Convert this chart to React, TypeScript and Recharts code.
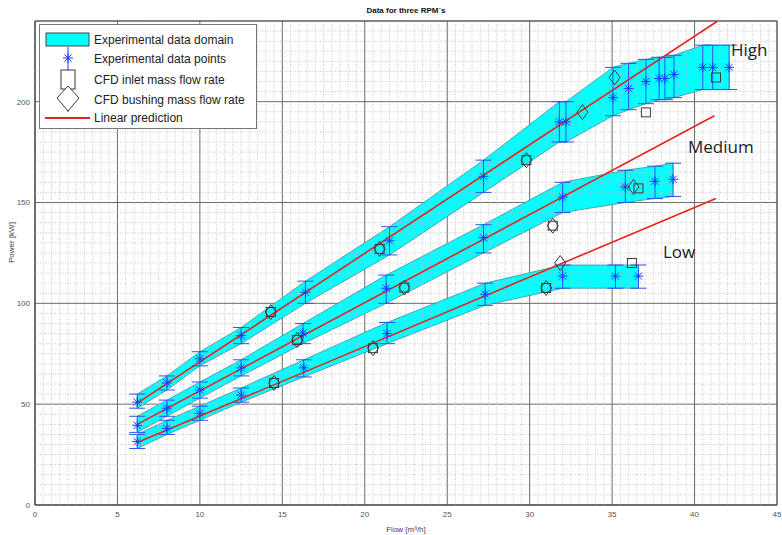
import {
  Area,
  CartesianGrid,
  ComposedChart,
  ErrorBar,
  Line,
  ReferenceArea,
  ReferenceLine,
  Scatter,
  XAxis,
  YAxis,
} from 'recharts';

// High RPM: experimental points and measured spread
const highFlow = [6.2, 8, 10, 12.5, 16.4, 21.5, 27.2, 31.8, 32.2, 35.05, 36.0, 37.05, 37.85, 38.2, 38.75, 40.5, 41.1, 42.1];
const highPower = [51, 60.5, 72.5, 84, 105.5, 131, 163, 190, 190, 202, 206.5, 210, 211.5, 211.5, 213.5, 217, 217, 217];
const highMin = [48, 57, 69, 80, 100, 124, 155, 180, 180, 193, 196, 199, 201, 201, 202, 206, 206, 206];
const highMax = [55, 64, 76, 88, 111, 138, 171, 200, 200, 217, 219, 221, 222, 222, 223, 228, 228, 228];

// Medium RPM
const medFlow = [6.2, 8, 10, 12.5, 16.25, 21.3, 27.2, 32.0, 35.8, 37.6, 38.7];
const medPower = [39.5, 48, 57, 68, 85.3, 107.5, 132.5, 152.7, 157.7, 160.5, 161.5];
const medMin = [36, 44, 53, 64, 80, 100, 125, 145, 150, 152, 153];
const medMax = [44, 52, 61, 72, 90, 114, 139, 160, 166, 168, 169.5];

// Low RPM
const lowFlow = [6.2, 8, 10, 12.5, 16.3, 21.35, 27.3, 32.0, 35.2, 36.6];
const lowPower = [31.5, 38, 45.5, 54.5, 68, 85, 104.5, 113.5, 113.5, 113.5];
const lowMin = [28, 35, 42, 51, 63.5, 80, 99, 107.5, 107.5, 107.5];
const lowMax = [35, 42, 49, 58, 72, 90.5, 110, 119, 119, 119];

// CFD results
const cfdInletFlow = [14.3, 20.9, 29.8, 37.05, 41.3, 15.9, 22.4, 31.4, 36.6, 14.5, 20.5, 31.0, 36.2];
const cfdInletPower = [95.7, 127, 171, 194.7, 212, 81.8, 107.8, 138.5, 157, 60.5, 77.8, 107.6, 120];
const cfdBushFlow = [14.3, 20.9, 29.8, 33.2, 35.15, 15.9, 22.4, 31.4, 36.3, 14.5, 20.5, 31.0, 31.85];
const cfdBushPower = [95.7, 127, 171, 194.8, 212, 81.8, 107.8, 138.5, 157.7, 60.5, 77.8, 107.6, 120];

// Linear prediction end points
const highLineFlow = [6.2, 41.4];
const highLinePower = [50.5, 240];
const medLineFlow = [6.2, 41.2];
const medLinePower = [40, 193];
const lowLineFlow = [6.2, 41.3];
const lowLinePower = [31, 152];

const xTicks = [0, 5, 10, 15, 20, 25, 30, 35, 40, 45];
const yTicks = [0, 50, 100, 150, 200];

const minorX: number[] = [];
for (let i = 1; i < 90; i++) if (i % 10 !== 0) minorX.push(i * 0.5);
const minorY: number[] = [];
for (let i = 1; i < 48; i++) if (i % 10 !== 0) minorY.push(i * 5);

const pts = (xs: number[], ys: number[], lo?: number[], hi?: number[]) =>
  xs.map((x, i) => ({
    x,
    y: ys[i],
    err: lo && hi ? [ys[i] - lo[i], hi[i] - ys[i]] : undefined,
  }));
const band = (xs: number[], lo: number[], hi: number[]) => xs.map((x, i) => ({ x, range: [lo[i], hi[i]] }));

const CYAN = '#00ffff';
const BAND_EDGE = '#3a8f99';
const BLUE = '#1d3bff';
const RED = '#e8231d';
const GREY_MARK = '#3a3a3a';

const Asterisk = (p: any) => {
  const { cx, cy } = p;
  const r = 5;
  const d = 3.6;
  return (
    <g stroke={BLUE} strokeWidth={1}>
      <line x1={cx - r} y1={cy} x2={cx + r} y2={cy} />
      <line x1={cx} y1={cy - r} x2={cx} y2={cy + r} />
      <line x1={cx - d} y1={cy - d} x2={cx + d} y2={cy + d} />
      <line x1={cx - d} y1={cy + d} x2={cx + d} y2={cy - d} />
    </g>
  );
};

const Square = (p: any) => (
  <rect x={p.cx - 4.5} y={p.cy - 4.5} width={9} height={9} fill="none" stroke={GREY_MARK} strokeWidth={1} />
);

const Diamond = (p: any) => (
  <polygon
    points={`${p.cx},${p.cy - 7.5} ${p.cx + 5.5},${p.cy} ${p.cx},${p.cy + 7.5} ${p.cx - 5.5},${p.cy}`}
    fill="none"
    stroke={GREY_MARK}
    strokeWidth={1}
  />
);

const series = [
  { key: 'high', flow: highFlow, power: highPower, lo: highMin, hi: highMax },
  { key: 'med', flow: medFlow, power: medPower, lo: medMin, hi: medMax },
  { key: 'low', flow: lowFlow, power: lowPower, lo: lowMin, hi: lowMax },
];
const predictions = [
  { key: 'high', flow: highLineFlow, power: highLinePower },
  { key: 'med', flow: medLineFlow, power: medLinePower },
  { key: 'low', flow: lowLineFlow, power: lowLinePower },
];

const tickStyle = { fontSize: 8, fill: '#555', fontFamily: 'Liberation Sans, Arial, sans-serif' };

export default function App() {
  return (
    <div style={{ position: 'absolute', left: 0, top: 0, width: 782, height: 535, background: '#fff' }}>
      <ComposedChart width={782} height={535} margin={{ top: 21, right: 5, bottom: 0, left: 0 }}>
        <XAxis
          type="number"
          dataKey="x"
          domain={[0, 45]}
          ticks={xTicks}
          allowDataOverflow
          height={30}
          tick={tickStyle}
          tickLine={false}
          tickSize={4}
          axisLine={{ stroke: '#555' }}
          label={{ value: 'Flow [m³/h]', position: 'insideBottom', offset: 3, style: { ...tickStyle, fill: '#444' } }}
        />
        <YAxis
          type="number"
          dataKey="y"
          domain={[0, 240]}
          ticks={yTicks}
          allowDataOverflow
          width={35}
          tick={tickStyle}
          tickLine={false}
          tickSize={3}
          axisLine={{ stroke: '#555' }}
          label={{ value: 'Power [kW]', angle: -90, position: 'insideLeft', offset: 11, style: { ...tickStyle, fill: '#444' } }}
        />
        {minorX.map((v) => (
          <ReferenceLine key={`mx${v}`} x={v} stroke="#bdbdbd" strokeDasharray="1 1.5" strokeWidth={0.8} />
        ))}
        {minorY.map((v) => (
          <ReferenceLine key={`my${v}`} y={v} stroke="#bdbdbd" strokeDasharray="1 1.5" strokeWidth={0.8} />
        ))}
        <CartesianGrid stroke="#6a6a6a" strokeWidth={1} />
        <ReferenceArea x1={0} x2={45} y1={0} y2={240} fill="none" stroke="#555" strokeWidth={1} />

        {series.map((s) => (
          <Area
            key={`band-${s.key}`}
            data={band(s.flow, s.lo, s.hi)}
            dataKey="range"
            type="linear"
            fill={CYAN}
            fillOpacity={1}
            stroke={BAND_EDGE}
            strokeWidth={0.8}
            dot={false}
            activeDot={false}
            isAnimationActive={false}
          />
        ))}

        {predictions.map((s) => (
          <Line
            key={`pred-${s.key}`}
            data={pts(s.flow, s.power)}
            dataKey="y"
            type="linear"
            stroke={RED}
            strokeWidth={1.6}
            dot={false}
            activeDot={false}
            isAnimationActive={false}
          />
        ))}

        {series.map((s) => (
          <Scatter
            key={`pts-${s.key}`}
            data={pts(s.flow, s.power, s.lo, s.hi)}
            dataKey="y"
            shape={Asterisk}
            isAnimationActive={false}
          >
            <ErrorBar dataKey="err" direction="y" width={8} stroke="#3050f0" strokeWidth={1} />
          </Scatter>
        ))}

        <Scatter data={pts(cfdInletFlow, cfdInletPower)} dataKey="y" shape={Square} isAnimationActive={false} />
        <Scatter data={pts(cfdBushFlow, cfdBushPower)} dataKey="y" shape={Diamond} isAnimationActive={false} />
      </ComposedChart>

      <svg
        width={782}
        height={535}
        style={{ position: 'absolute', left: 0, top: 0, pointerEvents: 'none' }}
        fontFamily="Liberation Sans, Arial, sans-serif"
      >
        <text x={406} y={13} textAnchor="middle" fontSize={8} fontWeight="bold" fill="#111">
          Data for three RPM´s
        </text>

        <g fontFamily="Open Sans, Noto Sans, sans-serif" fontSize={17} fill="#222">
          <text x={731} y={56}>High</text>
          <text x={688} y={153}>Medium</text>
          <text x={663} y={258}>Low</text>
        </g>

        <rect x={39.5} y={24.5} width={217} height={104} fill="#fff" stroke="#777" strokeWidth={1} />
        <rect x={46} y={33} width={43} height={13} fill={CYAN} stroke="#444" strokeWidth={1} />
        <line x1={68} y1={47} x2={68} y2={112} stroke={BLUE} strokeWidth={1} />
        <Asterisk cx={68} cy={58} />
        <rect x={61} y={70} width={14} height={19} fill="#fff" stroke={GREY_MARK} strokeWidth={1} />
        <polygon points="68,86 79,98 68,111 57,98" fill="#fff" stroke={GREY_MARK} strokeWidth={1} />
        <line x1={45} y1={118} x2={90} y2={118} stroke={RED} strokeWidth={2} />
        <g fontSize={12} fill="#222">
          <text x={94} y={44}>Experimental data domain</text>
          <text x={94} y={63}>Experimental data points</text>
          <text x={94} y={84}>CFD inlet mass flow rate</text>
          <text x={94} y={104}>CFD bushing mass flow rate</text>
          <text x={94} y={122}>Linear prediction</text>
        </g>
      </svg>
    </div>
  );
}
